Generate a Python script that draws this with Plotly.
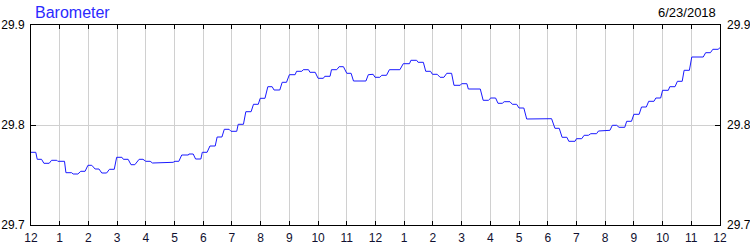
import plotly.graph_objects as go

# time in minutes from midnight, barometric pressure (inHg)
minutes = [0, 10, 13, 22, 27, 38, 43, 54, 56, 70, 73, 85, 88, 98, 104, 113, 119, 127,
           134, 142, 148, 158, 164, 174, 179, 190, 193, 203, 209, 217, 226, 234, 240,
           249, 254, 263, 268, 297, 301, 309, 315, 329, 330, 339, 344, 355, 358, 368,
           374, 385, 389, 399, 404, 414, 418, 430, 433, 444, 449, 460, 465, 475, 479,
           489, 495, 504, 508, 520, 525, 534, 540, 552, 555, 566, 569, 580, 583, 594,
           600, 611, 614, 625, 628, 639, 644, 653, 660, 669, 674, 700, 705, 715, 719,
           729, 733, 743, 749, 771, 778, 791, 794, 806, 809, 820, 825, 835, 839, 849,
           855, 863, 869, 879, 884, 897, 900, 911, 914, 939, 945, 956, 961, 971, 976,
           985, 989, 1001, 1006, 1015, 1020, 1030, 1036, 1088, 1095, 1104, 1110, 1120,
           1124, 1137, 1140, 1151, 1156, 1165, 1170, 1182, 1186, 1200, 1203, 1210, 1215,
           1224, 1229, 1241, 1245, 1255, 1260, 1271, 1276, 1286, 1291, 1302, 1306, 1316,
           1320, 1332, 1335, 1346, 1351, 1361, 1365, 1376, 1381, 1405, 1410, 1420, 1425,
           1436, 1440]
pressure = [29.7727, 29.7727, 29.7657, 29.7657, 29.7617, 29.7617, 29.7647, 29.7647,
            29.7637, 29.7637, 29.7523, 29.7523, 29.7510, 29.7510, 29.7537, 29.7537,
            29.7597, 29.7597, 29.7560, 29.7560, 29.7520, 29.7520, 29.7557, 29.7557,
            29.7677, 29.7677, 29.7657, 29.7657, 29.7603, 29.7603, 29.7657, 29.7657,
            29.7637, 29.7637, 29.7620, 29.7620, 29.7627, 29.7627, 29.7637, 29.7637,
            29.7700, 29.7700, 29.7710, 29.7710, 29.7660, 29.7660, 29.7727, 29.7727,
            29.7790, 29.7790, 29.7880, 29.7880, 29.7957, 29.7957, 29.7937, 29.7937,
            29.8007, 29.8007, 29.8133, 29.8133, 29.8207, 29.8207, 29.8267, 29.8267,
            29.8383, 29.8383, 29.8350, 29.8350, 29.8427, 29.8427, 29.8503, 29.8503,
            29.8537, 29.8537, 29.8553, 29.8553, 29.8527, 29.8527, 29.8467, 29.8467,
            29.8487, 29.8487, 29.8553, 29.8553, 29.8583, 29.8583, 29.8517, 29.8517,
            29.8440, 29.8440, 29.8503, 29.8507, 29.8477, 29.8477, 29.8497, 29.8497,
            29.8553, 29.8553, 29.8613, 29.8613, 29.8647, 29.8647, 29.8627, 29.8627,
            29.8537, 29.8537, 29.8507, 29.8507, 29.8477, 29.8477, 29.8517, 29.8517,
            29.8397, 29.8397, 29.8413, 29.8413, 29.8360, 29.8360, 29.8247, 29.8247,
            29.8270, 29.8270, 29.8217, 29.8217, 29.8233, 29.8233, 29.8207, 29.8207,
            29.8170, 29.8170, 29.8060, 29.8063, 29.7967, 29.7967, 29.7877, 29.7877,
            29.7837, 29.7837, 29.7863, 29.7863, 29.7897, 29.7897, 29.7913, 29.7913,
            29.7940, 29.7940, 29.7947, 29.7947, 29.7997, 29.7997, 29.7977, 29.7977,
            29.8037, 29.8037, 29.8107, 29.8107, 29.8180, 29.8180, 29.8237, 29.8237,
            29.8270, 29.8270, 29.8347, 29.8347, 29.8383, 29.8383, 29.8437, 29.8437,
            29.8547, 29.8547, 29.8680, 29.8680, 29.8723, 29.8723, 29.8757, 29.8757,
            29.8773]

hour_ticks = list(range(0, 1441, 60))
hour_labels = ["12", "1", "2", "3", "4", "5", "6", "7", "8", "9", "10", "11",
               "12", "1", "2", "3", "4", "5", "6", "7", "8", "9", "10", "11", "12"]
y_ticks = [29.7, 29.8, 29.9]
y_labels = ["29.7", "29.8", "29.9"]
title_text = "Barometer"
date_text = "6/23/2018"

FONT = "Liberation Sans, Arial, sans-serif"

fig = go.Figure()
fig.add_trace(go.Scatter(x=minutes, y=pressure, mode="lines",
                         line=dict(color="#1a1aff", width=1), hoverinfo="skip",
                         showlegend=False))
fig.add_trace(go.Scatter(x=minutes, y=pressure, mode="lines", yaxis="y2",
                         line=dict(color="rgba(0,0,0,0)", width=0), hoverinfo="skip",
                         showlegend=False))

fig.update_layout(
    width=750, height=250,
    margin=dict(l=31, r=30, t=25, b=25),
    paper_bgcolor="white", plot_bgcolor="white",
    font=dict(family=FONT, size=12, color="black"),
    xaxis=dict(range=[0, 1440], tickmode="array", tickvals=hour_ticks, ticktext=hour_labels,
               showgrid=True, gridcolor="#d0d0d0", gridwidth=1, automargin=False,
               ticks="inside", ticklen=4, tickcolor="black", tickwidth=1,
               showline=True, linecolor="black", linewidth=1, mirror="ticks",
               ticklabelstandoff=2,
               zeroline=False, tickfont=dict(size=12, color="#101030")),
    yaxis=dict(range=[29.7, 29.9], tickmode="array", tickvals=y_ticks, ticktext=y_labels,
               showgrid=True, gridcolor="#d0d0d0", gridwidth=1, automargin=False,
               ticks="inside", ticklen=5, tickcolor="black", tickwidth=1,
               showline=True, linecolor="black", linewidth=1, mirror="ticks",
               ticklabelstandoff=3,
               zeroline=False, tickfont=dict(size=12, color="black")),
    yaxis2=dict(range=[29.7, 29.9], tickmode="array", tickvals=y_ticks, ticktext=y_labels,
                overlaying="y", side="right", showgrid=False, ticks="", automargin=False,
                showline=False, zeroline=False, ticklabelstandoff=6,
                tickfont=dict(size=12, color="black")),
    annotations=[
        dict(text=title_text, xref="paper", yref="paper", x=0.003, y=1.065,
             xanchor="left", yanchor="middle", showarrow=False,
             font=dict(family=FONT, size=16, color="#2a2aff")),
        dict(text=date_text, xref="paper", yref="paper", x=0.997, y=1.06,
             xanchor="right", yanchor="middle", showarrow=False,
             font=dict(family=FONT, size=13, color="black")),
    ],
)

fig.write_html("out.html")
